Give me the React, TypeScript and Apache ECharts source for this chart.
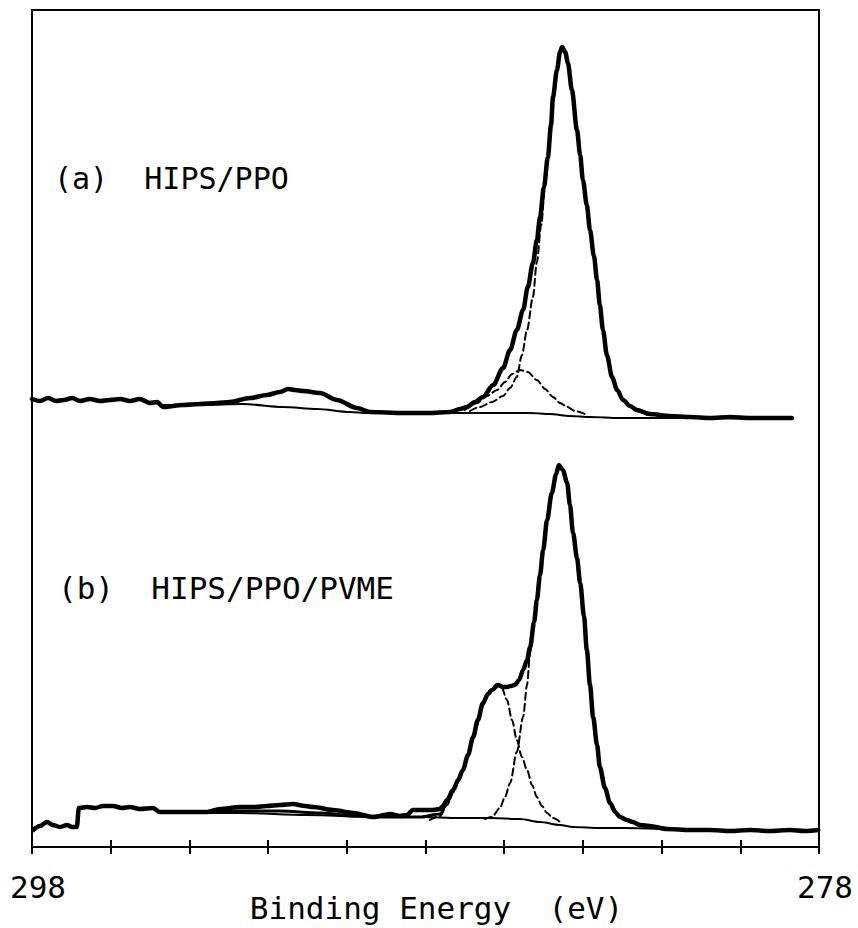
import React, { useEffect, useRef } from "react";
import * as echarts from "echarts";

// Binding energy (eV) vs intensity (arbitrary units, both spectra on one offset scale)
const spectrumA: [number, number][] = [
  [298.0, 448], [297.8, 446], [297.59, 449], [297.39, 446], [297.19, 447], [296.98, 449],
  [296.78, 446], [296.53, 448], [296.27, 446], [296.02, 447], [295.76, 448], [295.51, 446],
  [295.26, 448], [295.0, 444], [294.82, 445], [294.67, 440], [294.16, 442], [293.73, 443],
  [293.3, 444], [292.97, 445], [292.46, 449], [292.03, 452], [291.7, 455], [291.49, 458],
  [291.32, 457], [291.11, 456], [290.68, 454], [290.25, 447], [289.74, 439], [289.41, 435],
  [288.57, 434], [287.89, 434], [287.38, 435], [287.12, 438], [286.95, 440], [286.74, 445],
  [286.54, 450], [286.28, 462], [286.03, 479], [285.85, 497], [285.68, 517], [285.52, 537],
  [285.4, 560], [285.27, 584], [285.17, 607], [285.09, 630], [284.99, 660], [284.89, 690],
  [284.81, 722], [284.76, 750], [284.66, 777], [284.58, 795], [284.53, 800], [284.45, 795],
  [284.38, 784], [284.28, 757], [284.15, 717], [284.07, 692], [284.0, 667], [283.9, 642],
  [283.82, 617], [283.72, 591], [283.64, 567], [283.57, 542], [283.49, 517], [283.39, 492],
  [283.26, 470], [283.13, 457], [282.98, 447], [282.8, 441], [282.63, 437], [282.3, 433],
  [281.79, 431], [281.28, 430], [280.77, 429], [280.26, 430], [279.75, 429], [279.25, 429],
  [278.69, 429],
];
const componentA1: [number, number][] = [
  [286.87, 436], [286.62, 440], [286.31, 445], [286.03, 451], [285.85, 459], [285.68, 470],
  [285.55, 492], [285.42, 517], [285.27, 550], [285.17, 585], [285.06, 622], [284.96, 662],
  [284.86, 702], [284.76, 742], [284.66, 775], [284.58, 793], [284.53, 798], [284.45, 793],
  [284.38, 783], [284.28, 757], [284.15, 717], [284.0, 667], [283.82, 617], [283.64, 567],
  [283.49, 517], [283.39, 492], [283.26, 470], [283.13, 457], [282.98, 447], [282.8, 440],
  [282.63, 436], [282.3, 432], [281.79, 430],
];
const componentA2: [number, number][] = [
  [287.0, 437], [286.69, 444], [286.44, 451], [286.18, 457], [285.98, 465], [285.8, 473],
  [285.6, 477], [285.4, 475], [285.17, 467], [284.96, 458], [284.76, 450], [284.58, 444],
  [284.4, 440], [284.2, 436], [283.95, 433],
];
const backgroundA: [number, number][] = [
  [294.67, 442], [293.73, 442], [292.64, 443], [291.62, 440], [290.76, 438], [289.92, 435],
  [289.49, 434], [288.14, 434], [287.38, 434], [286.11, 434], [285.34, 434], [284.84, 433],
  [284.33, 431], [283.82, 430], [283.06, 429], [281.02, 429], [278.69, 428],
];

const spectrumB: [number, number][] = [
  [297.97, 17], [297.8, 21], [297.62, 25], [297.47, 22], [297.29, 20], [297.11, 22],
  [296.98, 20], [296.86, 20], [296.81, 39], [296.6, 40], [296.4, 39], [296.2, 41],
  [295.94, 41], [295.71, 39], [295.51, 40], [295.26, 38], [294.93, 39], [294.75, 35],
  [294.42, 35], [293.98, 35], [293.55, 35], [293.22, 38], [292.71, 40], [292.33, 40],
  [292.03, 41], [291.7, 42], [291.37, 43], [291.06, 41], [290.86, 40], [290.35, 37],
  [289.84, 34], [289.33, 30], [288.9, 33], [288.65, 31], [288.47, 32], [288.32, 37],
  [288.01, 37], [287.81, 37], [287.63, 38], [287.56, 41], [287.45, 47], [287.3, 57],
  [287.17, 67], [287.05, 77], [286.92, 92], [286.79, 110], [286.67, 127], [286.54, 144],
  [286.41, 153], [286.31, 157], [286.16, 162], [286.03, 160], [285.93, 160], [285.83, 161],
  [285.73, 162], [285.62, 167], [285.52, 177], [285.42, 187], [285.34, 200], [285.24, 225],
  [285.17, 247], [285.09, 272], [285.01, 297], [284.91, 327], [284.79, 354], [284.68, 373],
  [284.61, 382], [284.51, 377], [284.4, 364], [284.33, 342], [284.25, 314], [284.15, 289],
  [284.07, 264], [283.97, 230], [283.9, 197], [283.82, 162], [283.74, 130], [283.64, 102],
  [283.57, 80], [283.44, 59], [283.31, 44], [283.18, 35], [283.06, 30], [282.88, 27],
  [282.73, 25], [282.55, 22], [282.3, 21], [281.86, 18], [281.28, 17], [280.77, 17],
  [280.26, 16], [279.75, 17], [279.25, 16], [278.74, 17], [278.36, 16], [278.02, 17],
];
const fitB: [number, number][] = [
  [294.75, 35], [293.73, 35], [292.71, 36], [291.7, 36], [290.68, 34], [289.74, 31],
  [288.9, 30], [288.14, 30], [287.63, 33], [287.43, 46], [287.3, 57],
];
const componentB1: [number, number][] = [
  [286.49, 28], [286.31, 30], [286.11, 39], [285.98, 50], [285.85, 64], [285.68, 95],
  [285.52, 130], [285.42, 162], [285.34, 195], [285.24, 225], [285.17, 247], [285.09, 272],
  [285.01, 297], [284.91, 327], [284.79, 354], [284.68, 373], [284.61, 380], [284.51, 376],
  [284.4, 363], [284.25, 314], [284.07, 264], [283.9, 197], [283.74, 130], [283.57, 80],
  [283.31, 44], [283.06, 30], [282.73, 24], [282.3, 21],
];
const componentB2: [number, number][] = [
  [287.89, 27], [287.63, 31], [287.45, 42], [287.3, 55], [287.05, 76], [286.79, 109],
  [286.54, 142], [286.36, 157], [286.18, 163], [286.06, 159], [285.93, 147], [285.8, 127],
  [285.68, 107], [285.55, 90], [285.42, 77], [285.29, 62], [285.17, 50], [285.04, 41],
  [284.91, 34], [284.76, 29], [284.58, 25],
];
const backgroundB: [number, number][] = [
  [294.42, 34], [292.71, 34], [291.01, 32], [289.33, 30], [288.14, 30], [287.12, 29],
  [286.36, 29], [285.6, 28], [285.09, 25], [284.58, 22], [284.25, 20], [283.57, 19],
  [282.98, 19], [282.04, 18],
];

const tickLabels = [298, 278];
const axisTitle = "Binding Energy  (eV)";
const panelLabels = ["(a)  HIPS/PPO", "(b)  HIPS/PPO/PVME"];

const FONT = '"DejaVu Sans Mono", monospace';

export default function App() {
  const ref = useRef<HTMLDivElement>(null);

  useEffect(() => {
    if (!ref.current) return;
    const chart = echarts.init(ref.current, undefined, { renderer: "svg" });

    const line = (data: [number, number][], width: number, dashed = false) => ({
      type: "line",
      data,
      symbol: "none",
      showSymbol: false,
      smooth: 0.3,
      smoothMonotone: "x",
      silent: true,
      lineStyle: {
        color: "#000",
        width,
        type: dashed ? [7, 4] : "solid",
        cap: "round",
        join: "round",
      },
    });

    chart.setOption({
      animation: false,
      backgroundColor: "#fff",
      grid: {
        show: true,
        left: 32,
        top: 10,
        width: 787,
        height: 837,
        containLabel: false,
        outerBoundsMode: "none",
        borderColor: "#000",
        borderWidth: 2,
        backgroundColor: "transparent",
      },
      xAxis: [
        {
          type: "value",
          min: 278,
          max: 298,
          interval: 2,
          inverse: true,
          position: "bottom",
          axisLine: { show: true, lineStyle: { color: "#000", width: 2 } },
          axisTick: { show: true, inside: false, length: 7, lineStyle: { color: "#000", width: 2 } },
          splitLine: { show: false },
          axisLabel: {
            show: true,
            showMinLabel: true,
            showMaxLabel: true,
            margin: 24,
            color: "#000",
            fontFamily: FONT,
            fontSize: 31,
            padding: [0, 0, 0, 12],
            formatter: (v: number) => (tickLabels.includes(v) ? String(v) : ""),
          },
          name: axisTitle,
          nameLocation: "middle",
          nameGap: 45,
          nameMoveOverlap: false,
          nameTextStyle: {
            color: "#000",
            fontFamily: FONT,
            fontSize: 31,
            padding: [0, 0, 0, 22],
          },
        },
        {
          type: "value",
          min: 278,
          max: 298,
          interval: 2,
          inverse: true,
          position: "bottom",
          axisLine: { show: false },
          axisTick: { show: true, inside: true, length: 7, lineStyle: { color: "#000", width: 2 } },
          splitLine: { show: false },
          axisLabel: { show: false },
        },
      ],
      yAxis: {
        type: "value",
        min: 0,
        max: 837,
        show: false,
        splitLine: { show: false },
      },
      graphic: [
        {
          type: "text",
          x: 54,
          y: 178,
          style: { text: panelLabels[0], fill: "#000", font: `30px ${FONT}`, verticalAlign: "middle" },
        },
        {
          type: "text",
          x: 58,
          y: 588,
          style: { text: panelLabels[1], fill: "#000", font: `31px ${FONT}`, verticalAlign: "middle" },
        },
      ],
      series: [
        line(backgroundA, 2),
        line(componentA2, 2, true),
        line(componentA1, 2, true),
        line(spectrumA, 4.5),
        line(backgroundB, 2),
        line(fitB, 3),
        line(componentB2, 2, true),
        line(componentB1, 2, true),
        line(spectrumB, 4.5),
      ],
    });

    return () => chart.dispose();
  }, []);

  return (
    <div
      ref={ref}
      style={{ position: "fixed", left: 0, top: 0, width: 858, height: 928, background: "#fff" }}
    />
  );
}
